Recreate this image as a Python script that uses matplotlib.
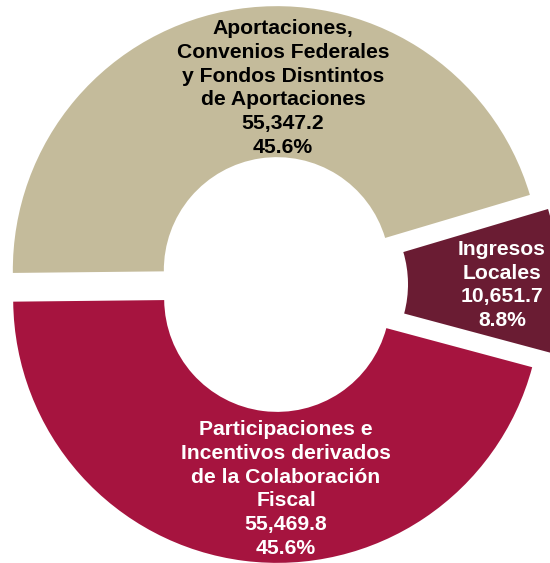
import matplotlib
matplotlib.use("Agg")
import matplotlib.pyplot as plt

# Data
categories = [
    "Ingresos\nLocales",
    "Aportaciones,\nConvenios Federales\ny Fondos Disntintos\nde Aportaciones",
    "Participaciones e\nIncentivos derivados\nde la Colaboración\nFiscal",
]
values = [10651.7, 55347.2, 55469.8]
percents = [8.8, 45.6, 45.6]

colors = ["#6A1C33", "#C4BB9B", "#A6143F"]
text_colors = ["white", "black", "white"]
explode = [16, 14.5, 14.5]
label_pos = [(502, 563 - 285), (283, 563 - 88), (286, 563 - 489)]

plt.rcParams['font.family'] = ['Liberation Sans', 'DejaVu Sans']

fig = plt.figure(figsize=(5.5, 5.63), dpi=100)
ax = fig.add_axes([0, 0, 1, 1])

R = 264
r = 113
ax.pie(values, explode=explode, startangle=-15, counterclock=True,
       radius=R, center=(279, 563 - 284.5), colors=colors,
       wedgeprops=dict(width=R - r, linewidth=0, antialiased=True))

ax.set_xlim(0, 550)
ax.set_ylim(0, 563)
ax.set_aspect('equal')
ax.axis('off')

for cat, v, p, (x, y), tc in zip(categories, values, percents, label_pos, text_colors):
    txt = f"{cat}\n{v:,.1f}\n{p:.1f}%"
    ax.text(x, y, txt, ha='center', va='center', multialignment='center',
            fontsize=15.2, fontweight='bold', color=tc, linespacing=1.33)

fig.savefig("out.png", dpi=100)
